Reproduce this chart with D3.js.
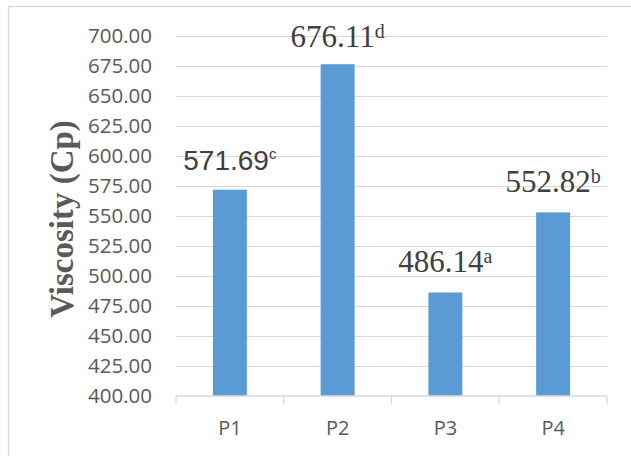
<!DOCTYPE html>
<html>
<head>
<meta charset="utf-8">
<script src="https://cdn.jsdelivr.net/npm/d3@7"></script>
<style>
  html, body { margin: 0; padding: 0; background: #fff; }
</style>
</head>
<body>
<div id="chart"></div>
<script>
// Viscosity of the four samples, with significance letters
const categories = ["P1", "P2", "P3", "P4"];
const values = [571.69, 676.11, 486.14, 552.82];
const letters = ["c", "d", "a", "b"];
const yTicks = [400, 425, 450, 475, 500, 525, 550, 575, 600, 625, 650, 675, 700];

const width = 631, height = 456;
const plot = {left: 176, right: 607, top: 35.5, bottom: 396};

const svg = d3.select("#chart")
  .append("svg")
  .attr("width", width)
  .attr("height", height);

// chart frame (cropped at right and bottom)
svg.append("rect")
  .attr("x", 8.5)
  .attr("y", 6.5)
  .attr("width", 700)
  .attr("height", 500)
  .attr("fill", "none")
  .attr("stroke", "#d9d9d9")
  .attr("stroke-width", 1.3);

const x = d3.scaleBand()
  .domain(categories)
  .range([plot.left, plot.right])
  .padding(0);

const y = d3.scaleLinear()
  .domain([400, 700])
  .range([plot.bottom, plot.top]);

// gridlines
svg.append("g")
  .selectAll("line")
  .data(yTicks.filter(d => d !== 400))
  .enter()
  .append("line")
  .attr("x1", plot.left)
  .attr("x2", plot.right)
  .attr("y1", d => Math.round(y(d)) + 0.5)
  .attr("y2", d => Math.round(y(d)) + 0.5)
  .attr("stroke", "#d9d9d9")
  .attr("stroke-width", 1.2);

// y tick labels
svg.append("g")
  .selectAll("text")
  .data(yTicks)
  .enter()
  .append("text")
  .attr("x", 152)
  .attr("y", d => y(d))
  .attr("dy", "0.36em")
  .attr("text-anchor", "end")
  .attr("fill", "#595959")
  .style("font-family", "'Open Sans', 'Liberation Sans', sans-serif")
  .style("font-size", "20.5px")
  .text(d => d3.format(".2f")(d));

// bars
const barW = x.bandwidth() * 0.315;
svg.append("g")
  .selectAll("rect")
  .data(values)
  .enter()
  .append("rect")
  .attr("x", (d, i) => x(categories[i]) + (x.bandwidth() - barW) / 2)
  .attr("y", d => y(d))
  .attr("width", barW)
  .attr("height", d => y(400) - y(d))
  .attr("fill", "#5b9bd5");

// x axis line and ticks
const axis = svg.append("g").attr("stroke", "#d9d9d9").attr("stroke-width", 1.3);
axis.append("line")
  .attr("x1", plot.left)
  .attr("x2", plot.right)
  .attr("y1", y(400))
  .attr("y2", y(400));
axis.selectAll(".tick")
  .data(categories.map(c => x(c)).concat([plot.right]))
  .enter()
  .append("line")
  .attr("x1", d => d)
  .attr("x2", d => d)
  .attr("y1", y(400))
  .attr("y2", y(400) + 8);

// x labels
svg.append("g")
  .selectAll("text")
  .data(categories)
  .enter()
  .append("text")
  .attr("x", d => x(d) + x.bandwidth() / 2)
  .attr("y", 435)
  .attr("text-anchor", "middle")
  .attr("fill", "#595959")
  .style("font-family", "'Open Sans', 'Liberation Sans', sans-serif")
  .style("font-size", "20px")
  .text(d => d);

// value labels with superscript letters (first one is in sans, rest in serif)
const labels = svg.append("g")
  .selectAll("text")
  .data(values)
  .enter()
  .append("text")
  .attr("x", (d, i) => x(categories[i]) + x.bandwidth() / 2)
  .attr("y", (d, i) => y(d) - (i === 1 ? 17.5 : 20))
  .attr("text-anchor", "middle")
  .attr("fill", "#404040")
  .style("font-family", (d, i) => i === 0 ? "'Liberation Sans', Arial, sans-serif" : "'Liberation Serif', 'Times New Roman', serif")
  .style("font-size", (d, i) => i === 0 ? "28px" : "31px");

labels.append("tspan")
  .text(d => d.toFixed(2));

labels.append("tspan")
  .attr("dy", (d, i) => i === 0 ? -11 : -9)
  .style("font-size", (d, i) => i === 0 ? "15px" : "20px")
  .text((d, i) => letters[i]);

// y axis title
svg.append("text")
  .attr("transform", "translate(73,219) rotate(-90)")
  .attr("text-anchor", "middle")
  .attr("fill", "#595959")
  .style("font-family", "'Liberation Serif', 'Times New Roman', serif")
  .style("font-weight", "bold")
  .style("font-size", "33px")
  .text("Viscosity (Cp)");
</script>
</body>
</html>
